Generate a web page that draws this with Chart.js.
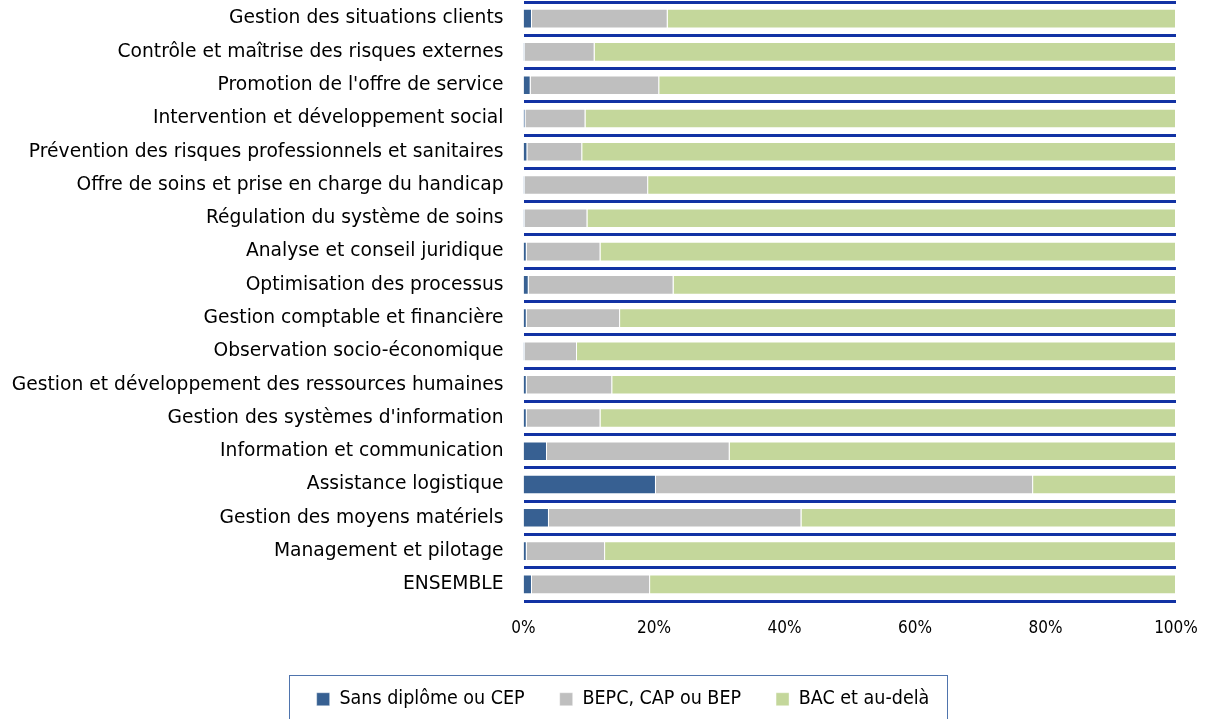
<!DOCTYPE html>
<html><head><meta charset="utf-8">
<script src="https://cdn.jsdelivr.net/npm/chart.js@4.4.1/dist/chart.umd.min.js"></script>
<style>html,body{margin:0;padding:0;background:#fff}#w{width:1208px;height:719px}</style>
</head><body><div id="w"><canvas id="c"></canvas></div>
<script>
const categories = [
 "Gestion des situations clients",
 "Contrôle et maîtrise des risques externes",
 "Promotion de l'offre de service",
 "Intervention et développement social",
 "Prévention des risques professionnels et sanitaires",
 "Offre de soins et prise en charge du handicap",
 "Régulation du système de soins",
 "Analyse et conseil juridique",
 "Optimisation des processus",
 "Gestion comptable et financière",
 "Observation socio-économique",
 "Gestion et développement des ressources humaines",
 "Gestion des systèmes d'information",
 "Information et communication",
 "Assistance logistique",
 "Gestion des moyens matériels",
 "Management et pilotage",
 "ENSEMBLE"
];
const sansDiplome = [1.3,0.2,1.1,0.3,0.6,0.2,0.2,0.5,0.8,0.5,0.2,0.5,0.5,3.6,20.3,3.9,0.5,1.3];
const bepcCapBep  = [20.8,10.7,19.7,9.2,8.4,18.9,9.6,11.3,22.2,14.3,8.0,13.1,11.3,28.0,57.8,38.7,12.0,18.1];
const bacEtPlus   = [77.9,89.1,79.2,90.5,91.0,80.9,90.2,88.2,77.0,85.2,91.8,86.4,88.2,68.4,21.9,57.4,87.5,80.6];
const seriesNames = ["Sans diplôme ou CEP","BEPC, CAP ou BEP","BAC et au-delà"];
const xTicks = [0,20,40,60,80,100];

const LABEL_FONT = "'DejaVu Sans',sans-serif";
const COND_FONT = "'DejaVu Sans Condensed','DejaVu Sans',sans-serif";
const PLOT_BOTTOM = 601;
const LEGEND_SHIFT = 35;

const legendBox = {
  id:'legendBox',
  afterLayout(chart){
    const lg = chart.legend; if(!lg) return;
    lg.left += LEGEND_SHIFT; lg.right += LEGEND_SHIFT;
  },
  afterDraw(chart){
    const lg = chart.legend; if(!lg || !lg.legendHitBoxes.length) return;
    const hb = lg.legendHitBoxes, last = hb[hb.length-1];
    const l = hb[0].left - 28, r = last.left + last.width + 17;
    const cy = hb[0].top + hb[0].height/2;
    const ctx = chart.ctx; ctx.save();
    ctx.strokeStyle = '#4f74ad'; ctx.lineWidth = 1;
    ctx.strokeRect(Math.round(l)+0.5, Math.round(cy-24)+0.5, Math.round(r-l), 80);
    ctx.restore();
  }
};
const seg = 'rgba(255,255,255,0.4)';
new Chart(document.getElementById('c'), {
  type:'bar',
  data:{ labels:categories, datasets:[
    {label:seriesNames[0], data:sansDiplome, backgroundColor:'#376092', borderColor:seg, borderWidth:1},
    {label:seriesNames[1], data:bepcCapBep, backgroundColor:'#bfbfbf', borderColor:seg, borderWidth:1},
    {label:seriesNames[2], data:bacEtPlus, backgroundColor:'#c4d79b', borderColor:seg, borderWidth:1}
  ]},
  options:{
    indexAxis:'y', responsive:true, maintainAspectRatio:false, animation:false,
    datasets:{bar:{barPercentage:0.59, categoryPercentage:1}},
    layout:{padding:{top:2,right:32,left:0,bottom:0}},
    scales:{
      x:{stacked:true, min:0, max:100,
         afterBuildTicks(s){ s.ticks = xTicks.map(v=>({value:v})); },
         grid:{display:false, drawTicks:false}, border:{display:false},
         ticks:{color:'#000', padding:17, maxRotation:0, font:{family:COND_FONT,size:17}, callback:v=>v+'%'},
         afterFit(s){
           s.paddingLeft = 0; s.paddingRight = 0;
           const lh = s.chart.legend ? s.chart.legend.height : 64;
           s.height = s.chart.height - lh - PLOT_BOTTOM;
         }},
      y:{stacked:true,
         grid:{display:true, offset:true, color:'#1232a4', lineWidth:3, drawTicks:false},
         border:{display:false},
         ticks:{color:'#000', padding:20, autoSkip:false, font:{family:LABEL_FONT,size:18.7}},
         afterFit(s){ s.width = 523.5; s.paddingTop = 0; s.paddingBottom = 0; }}
    },
    plugins:{
      legend:{position:'bottom', labels:{color:'#000', boxWidth:13, boxHeight:13, padding:35, font:{family:COND_FONT,size:19.5}}},
      tooltip:{enabled:false}
    }
  },
  plugins:[legendBox]
});
</script></body></html>
